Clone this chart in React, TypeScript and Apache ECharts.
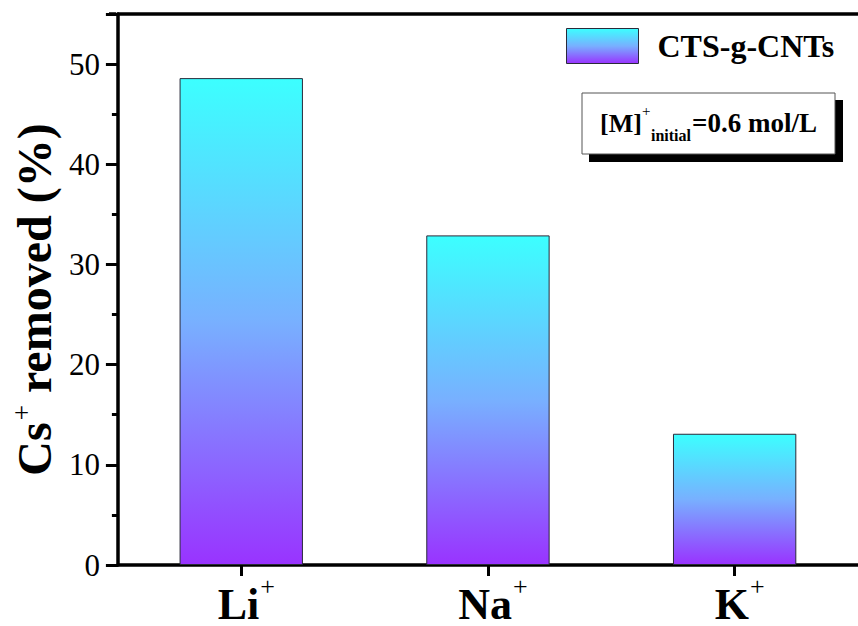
import React, { useEffect, useRef } from "react";
import * as echarts from "echarts";

const categories = ["Li", "Na", "K"];
const removedPct = [48.6, 32.9, 13.1];
const seriesName = "CTS-g-CNTs";
const yMin = 0;
const yMax = 55;
const yInterval = 10;

const FONT = "Liberation Serif";

export default function App() {
  const ref = useRef<HTMLDivElement>(null);
  useEffect(() => {
    if (!ref.current) return;
    const chart = echarts.init(ref.current, undefined, { renderer: "svg" });
    const grad = new echarts.graphic.LinearGradient(0, 0, 0, 1, [
      { offset: 0, color: "#3cffff" },
      { offset: 0.5, color: "#78b0ff" },
      { offset: 1, color: "#9933ff" },
    ]);
    chart.setOption({
      animation: false,
      backgroundColor: "#ffffff",
      textStyle: { fontFamily: FONT },
      grid: { left: 115, top: 14, bottom: 58.3, right: -12, containLabel: false },
      legend: {
        show: true,
        left: 566,
        top: 28,
        padding: 0,
        itemWidth: 72,
        itemHeight: 35,
        icon: "rect",
        data: [seriesName],
        itemStyle: { borderColor: "#2a2a3a", borderWidth: 1 },
        textStyle: {
          fontFamily: FONT,
          fontSize: 32,
          fontWeight: "bold",
          color: "#000",
          padding: [0, 0, 0, 14],
        },
      },
      xAxis: [
        {
          type: "category",
          data: categories,
          position: "bottom",
          axisLine: { show: true, lineStyle: { color: "#000", width: 3.5 } },
          axisTick: { show: true, alignWithLabel: true, length: 11, lineStyle: { color: "#000", width: 3 } },
          axisLabel: {
            margin: 8,
            formatter: (v: string) => `{b|${v}}{s|+}`,
            rich: {
              b: { fontFamily: FONT, fontSize: 44, fontWeight: "bold", color: "#000", lineHeight: 62, padding: [0, 0, 0, 10] },
              s: { fontFamily: FONT, fontSize: 26, color: "#000", verticalAlign: "top", lineHeight: 20, padding: [0, 0, 0, 1] },
            },
          },
          splitLine: { show: false },
        },
        {
          type: "category",
          data: categories,
          position: "top",
          axisLine: { show: true, lineStyle: { color: "#000", width: 3.5 } },
          axisTick: { show: false },
          axisLabel: { show: false },
          splitLine: { show: false },
        },
      ],
      yAxis: {
        type: "value",
        min: yMin,
        max: yMax,
        interval: yInterval,
        name: "{b|Cs}{s|+}{b| removed (%)}",
        nameLocation: "middle",
        nameRotate: 90,
        nameGap: 53,
        nameTextStyle: {
          padding: [0, 20, 0, 0],
          rich: {
            b: { fontFamily: FONT, fontSize: 48, fontWeight: "bold", color: "#000", lineHeight: 52 },
            s: { fontFamily: FONT, fontSize: 27, color: "#000", verticalAlign: "top", lineHeight: 26, padding: [0, 0, 12, 2] },
          },
        },
        axisLine: { show: true, lineStyle: { color: "#000", width: 3.5 } },
        axisTick: { show: true, length: 12, lineStyle: { color: "#000", width: 3 } },
        minorTick: { show: true, splitNumber: 2, length: 6, lineStyle: { color: "#000", width: 3 } },
        axisLabel: {
          margin: 18,
          fontFamily: FONT,
          fontSize: 31,
          color: "#000",
          showMaxLabel: false,
        },
        splitLine: { show: false },
      },
      graphic: [
        { type: "line", shape: { x1: 109, y1: 14, x2: 116, y2: 14 }, style: { stroke: "#000", lineWidth: 3.5 } },
        { type: "rect", shape: { x: 589, y: 100, width: 254, height: 62 }, style: { fill: "#000" } },
        {
          type: "rect",
          shape: { x: 582, y: 93, width: 253, height: 61 },
          style: { fill: "#fff", stroke: "#555", lineWidth: 1 },
        },
        {
          type: "text",
          x: 600,
          y: 123,
          style: { text: "[M]", font: `bold 26px ${FONT}`, fill: "#000", verticalAlign: "middle", align: "left" },
        },
        {
          type: "text",
          x: 642,
          y: 111,
          style: { text: "+", font: `15px ${FONT}`, fill: "#000", verticalAlign: "middle", align: "left" },
        },
        {
          type: "text",
          x: 651,
          y: 135,
          style: { text: "initial", font: `bold 16px ${FONT}`, fill: "#000", verticalAlign: "middle", align: "left" },
        },
        {
          type: "text",
          x: 692,
          y: 123,
          style: { text: "=0.6 mol/L", font: `bold 27px ${FONT}`, fill: "#000", verticalAlign: "middle", align: "left" },
        },
      ],
      series: [
        {
          name: seriesName,
          type: "bar",
          data: removedPct,
          barWidth: "50%",
          itemStyle: { color: grad, borderColor: "#2a2a3a", borderWidth: 1 },
        },
      ],
    });
    return () => chart.dispose();
  }, []);
  return (
    <div
      ref={ref}
      style={{ position: "fixed", left: 0, top: 0, width: 858, height: 626, background: "#fff" }}
    />
  );
}
